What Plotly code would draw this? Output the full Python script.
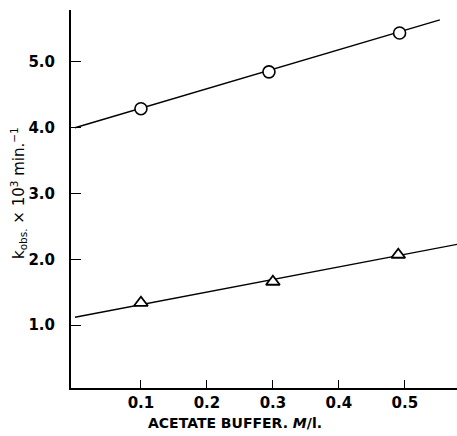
import plotly.graph_objects as go

# Data
buffer_conc = [0.1, 0.294, 0.492]
k_circle = [4.29, 4.85, 5.44]
buffer_conc_tri = [0.1, 0.3, 0.49]
k_triangle = [1.34, 1.66, 2.07]

fit_circle_x = [0.0, 0.553]
fit_circle_y = [4.0, 5.64]
fit_tri_x = [0.0, 0.58]
fit_tri_y = [1.12, 2.23]

x_ticks = [0.1, 0.2, 0.3, 0.4, 0.5]
x_ticklabels = ["0.1", "0.2", "0.3", "0.4", "0.5"]
y_ticks = [1.0, 2.0, 3.0, 4.0, 5.0]
y_ticklabels = ["1.0", "2.0", "3.0", "4.0", "5.0"]

FONT = "DejaVu Sans, Liberation Sans, Arial, sans-serif"

fig = go.Figure()
fig.add_trace(go.Scatter(x=fit_circle_x, y=fit_circle_y, mode="lines",
                         line=dict(color="black", width=1.4), showlegend=False))
fig.add_trace(go.Scatter(x=fit_tri_x, y=fit_tri_y, mode="lines",
                         line=dict(color="black", width=1.4), showlegend=False))
fig.add_trace(go.Scatter(x=buffer_conc, y=k_circle, mode="markers",
                         marker=dict(symbol="circle", size=12, color="white",
                                     line=dict(color="black", width=1.6)),
                         showlegend=False))
fig.add_trace(go.Scatter(x=buffer_conc_tri, y=k_triangle, mode="markers",
                         marker=dict(symbol="triangle-up", size=12, color="white",
                                     line=dict(color="black", width=1.8)),
                         showlegend=False))

tickfont = dict(family=FONT, size=15, color="black", weight="bold")

fig.update_layout(
    width=457, height=436,
    margin=dict(l=71, r=0, t=10, b=48),
    plot_bgcolor="white", paper_bgcolor="white",
    xaxis=dict(range=[-0.006, 0.579], tickvals=x_ticks, ticktext=x_ticklabels,
               ticks="inside", ticklen=8, tickwidth=1, tickcolor="black",
               showline=True, linecolor="black", linewidth=2,
               showgrid=False, zeroline=False, tickfont=tickfont,
               ticklabelstandoff=0),
    yaxis=dict(range=[0.045, 5.79], tickvals=y_ticks, ticktext=y_ticklabels,
               ticks="inside", ticklen=10, tickwidth=1, tickcolor="black",
               showline=True, linecolor="black", linewidth=2,
               showgrid=False, zeroline=False, tickfont=tickfont,
               ticklabelstandoff=11),
)

fig.add_annotation(text="ACETATE BUFFER. <i>M</i>/l.",
                   xref="paper", yref="paper",
                   x=(235 - 71) / (457 - 71), y=-(423 - 388) / (388 - 10),
                   xanchor="center", yanchor="middle", showarrow=False,
                   font=dict(family=FONT, size=14, color="black", weight="bold"))

fig.add_annotation(text="k<sub>obs.</sub> × 10<sup>3</sup> min.<sup>−1</sup>",
                   xref="paper", yref="paper",
                   x=-(71 - 19) / (457 - 71), y=(388 - 193) / (388 - 10),
                   xanchor="center", yanchor="middle", textangle=-90, showarrow=False,
                   font=dict(family=FONT, size=15, color="black"))

fig.write_html("out.html")
